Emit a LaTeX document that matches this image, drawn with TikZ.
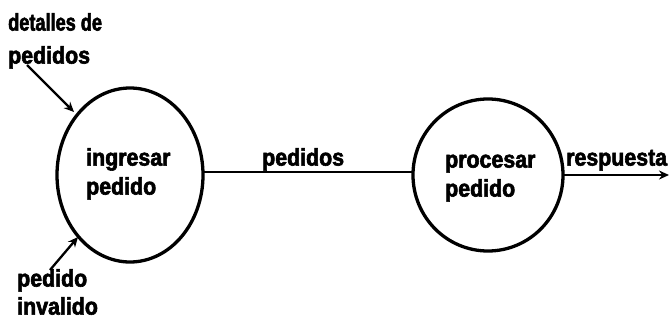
\documentclass[tikz,border=0pt]{standalone}
\usepackage{fontspec}
\newfontfamily\hv[FakeStretch=0.89,FakeBold=2.5]{Liberation Sans Bold}
\usetikzlibrary{arrows.meta}
\begin{document}
\begin{tikzpicture}[x=1pt,y=-1pt,
  lbl/.style={font=\hv\fontsize{24}{29}\selectfont,align=left,inner sep=0pt,anchor=north west},
  flow/.style={line width=2.3pt},
  flowarr/.style={line width=2.3pt,-{Stealth[length=10pt,width=9pt]}}]
\useasboundingbox (0,0) rectangle (669,321);
\coordinate (c1) at (130,175);
\coordinate (c2) at (488,175);
\draw[line width=3.3pt] (c1) ellipse [x radius=73, y radius=87];
\draw[line width=3.3pt] (c2) ellipse [x radius=75, y radius=76];
\node[lbl] (t1) at (86,148) {\vphantom{d}ingresar\\pedido};
\node[lbl] (t2) at (445,150) {\vphantom{d}procesar\\pedido};
\coordinate (c1r) at (203,172);
\coordinate (c2l) at (413,172);
\coordinate (c2r) at (563,175);
\coordinate (out) at (669,175);
\draw[flow] (c1r) -- (c2l);
\node[lbl] (pl) at (262,148) {\vphantom{d}pedidos};
\draw[flowarr] (c2r) -- (out);
\node[lbl] (rl) at (566,148) {\vphantom{d}respuesta};
\node[lbl] (dl) at (8,13) {\vphantom{d}\scalebox{0.85}[1]{detalles de}\\[4pt]pedidos};
\coordinate (d1) at (27,65);
\coordinate (d2) at (74,112);
\draw[flowarr] (d1) -- (d2);
\node[lbl] (il) at (17,269) {\vphantom{d}pedido\\[-1pt]invalido};
\coordinate (i1) at (50,270);
\coordinate (i2) at (78,237);
\draw[flowarr] (i1) -- (i2);
\end{tikzpicture}
\end{document}
